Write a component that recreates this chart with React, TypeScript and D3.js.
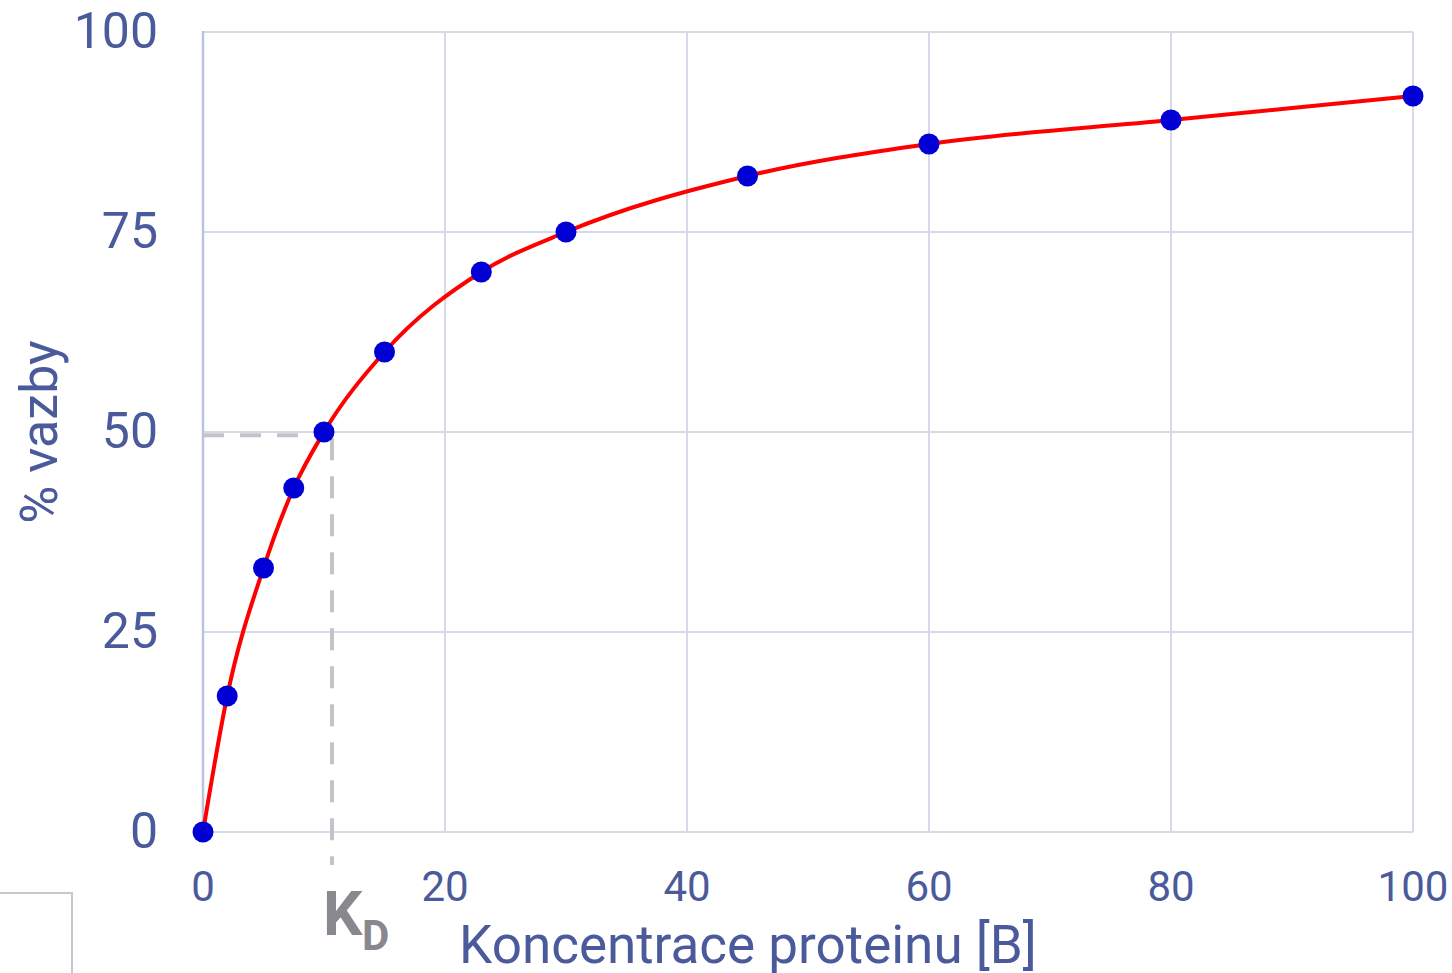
import React from "react";
import * as d3 from "d3";

const concentrations = [0, 2, 5, 7.5, 10, 15, 23, 30, 45, 60, 80, 100];
const bindingPercent = [0, 17, 33, 43, 50, 60, 70, 75, 82, 86, 89, 92];
const xTicks = [0, 20, 40, 60, 80, 100];
const yTicks = [0, 25, 50, 75, 100];
const kdX = 10.66;
const kdY = 49.6;
const xTitle = "Koncentrace proteinu [B]";
const yTitle = "% vazby";

const W = 1452;
const H = 973;
const left = 203;
const right = 1413;
const top = 32;
const bottom = 832;

const textColor = "#4a5a9b";
const gridColor = "#d5d9ea";
const font = "Roboto, 'Noto Sans', sans-serif";

export default function App() {
  const x = d3.scaleLinear().domain([0, 100]).range([left, right]);
  const y = d3.scaleLinear().domain([0, 100]).range([bottom, top]);
  const pts = concentrations.map((c, i) => [c, bindingPercent[i]] as [number, number]);
  const line = d3
    .line<[number, number]>()
    .x((d) => x(d[0]))
    .y((d) => y(d[1]))
    .curve(d3.curveMonotoneX);

  return (
    <svg
      width={W}
      height={H}
      style={{ position: "fixed", left: 0, top: 0, background: "#fff" }}
      fontFamily={font}
    >
      <rect x={0} y={0} width={W} height={H} fill="#fff" />
      {/* grid */}
      {xTicks.map((t) => (
        <line key={"gx" + t} x1={x(t)} x2={x(t)} y1={top} y2={bottom} stroke={gridColor} strokeWidth={2} />
      ))}
      {yTicks.map((t) => (
        <line key={"gy" + t} x1={left} x2={right} y1={y(t)} y2={y(t)} stroke={gridColor} strokeWidth={2} />
      ))}
      <line x1={left} x2={left} y1={top - 1} y2={bottom} stroke="#bcc3df" strokeWidth={2.5} />

      {/* small box bottom-left */}
      <path d="M0,893 H72 V973" fill="none" stroke="#c8c8cc" strokeWidth={2} />

      {/* KD dashed guides */}
      <line x1={left} x2={x(kdX)} y1={y(kdY)} y2={y(kdY)} stroke="#c3c3c8" strokeWidth={4} strokeDasharray="21 16" />
      <line x1={x(kdX)} x2={x(kdX)} y1={y(kdY) + 3} y2={bottom + 33} stroke="#c3c3c8" strokeWidth={4} strokeDasharray="22 16" />

      {/* curve */}
      <path d={line(pts) || ""} fill="none" stroke="#ff0000" strokeWidth={4} />
      {pts.map((p, i) => (
        <circle key={i} cx={x(p[0])} cy={y(p[1])} r={10.5} fill="#0000d4" />
      ))}

      {/* y tick labels */}
      {yTicks.map((t) => (
        <text key={"ty" + t} x={158} y={y(t) + 16} textAnchor="end" fontSize={50} fill={textColor}>
          {t}
        </text>
      ))}
      {/* x tick labels */}
      {xTicks.map((t) => (
        <text key={"tx" + t} x={x(t)} y={901} textAnchor="middle" fontSize={42} fill={textColor}>
          {t}
        </text>
      ))}

      {/* KD label */}
      <text x={323} y={935} fontSize={62} fontWeight="bold" fill="#88888f">
        K
        <tspan x={362} y={950} fontSize={42}>
          D
        </tspan>
      </text>

      {/* axis titles */}
      <text x={748} y={963} textAnchor="middle" fontSize={53} fill={textColor}>
        {xTitle}
      </text>
      <text
        transform={`translate(57,432) rotate(-90)`}
        textAnchor="middle"
        fontSize={52}
        fill={textColor}
      >
        {yTitle}
      </text>
    </svg>
  );
}
